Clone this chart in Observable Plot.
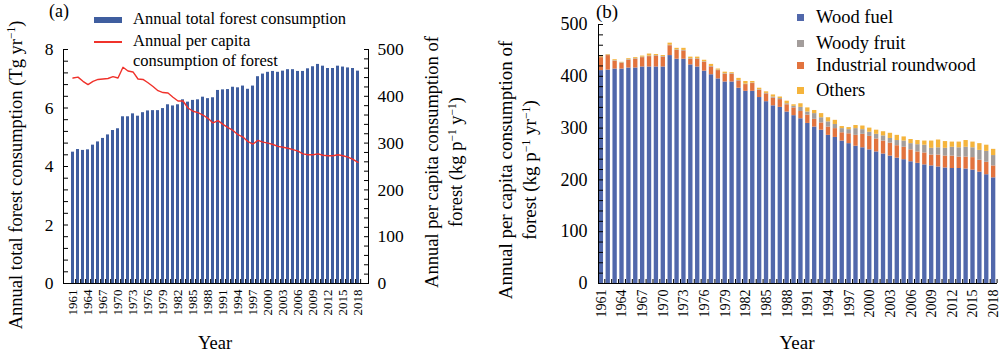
<!DOCTYPE html>
<html><head><meta charset="utf-8">
<script src="https://cdn.jsdelivr.net/npm/d3@7"></script>
<script src="https://cdn.jsdelivr.net/npm/@observablehq/plot@0.6"></script>
<style>
body{margin:0;background:#fff;}
#wrap{position:relative;width:1000px;height:355px;overflow:hidden;font-family:"Liberation Serif","Times New Roman",serif;color:#000;}
#wrap svg, #wrap svg text{font-family:"Liberation Serif","Times New Roman",serif !important;}
.abs{position:absolute;white-space:nowrap;line-height:1;}
.rot{position:absolute;white-space:nowrap;transform:translate(-50%,-50%) rotate(-90deg);text-align:center;}
sup{font-size:0.62em;vertical-align:0.55em;line-height:0;}
.sw{position:absolute;}
</style></head>
<body><div id="wrap">
<div id="pa" style="position:absolute;left:0;top:0"></div>
<div id="pa2" style="position:absolute;left:0;top:0"></div>
<div id="pb" style="position:absolute;left:500px;top:0"></div>

<div class="abs" style="left:49px;top:2px;font-size:18px">(a)</div>
<div class="abs" style="left:596px;top:2px;font-size:19px">(b)</div>

<div class="rot" style="left:16px;top:175px;font-size:18.5px">Annual total forest consumption (Tg yr<sup>−1</sup>)</div>
<div class="rot" style="left:444px;top:162px;font-size:18.5px;line-height:24px">Annual per capita consumption of<br>forest (kg p<sup>−1</sup> y<sup>−1</sup>)</div>
<div class="rot" style="left:518px;top:170px;font-size:19px;line-height:24px">Annual per capita consumption of<br>forest (kg p<sup>−1</sup> yr<sup>−1</sup>)</div>
<div class="rot" style="left:215px;top:343px;font-size:18.5px;transform:translate(-50%,-50%)">Year</div>
<div class="rot" style="left:797px;top:343px;font-size:19px;transform:translate(-50%,-50%)">Year</div>

<div id="legA"></div>
<div id="legB"></div>
</div>
<script>
// ---------- data ----------
const startYear = 1961, endYear = 2018;
const years = d3.range(startYear, endYear + 1);
const labelYears = [1961,1964,1967,1970,1973,1976,1979,1982,1985,1988,1991,1994,1997,2000,2003,2006,2009,2012,2015,2018];

// Panel (a): annual total forest consumption (Tg/yr)
const totalConsumption = [4.49,4.58,4.55,4.57,4.73,4.84,4.96,5.08,5.23,5.29,
  5.70,5.70,5.80,5.72,5.84,5.90,5.91,5.91,5.98,6.11,
  6.07,6.11,6.28,6.20,6.26,6.28,6.37,6.32,6.35,6.60,
  6.62,6.63,6.71,6.69,6.75,6.64,6.75,7.07,7.16,7.22,
  7.25,7.22,7.26,7.31,7.31,7.25,7.25,7.34,7.41,7.49,
  7.43,7.35,7.35,7.43,7.40,7.37,7.35,7.26];
// Panel (a): annual per capita consumption (kg/p/yr)
const perCapita = [439,441,432,425,432,436,437,438,442,439,
  462,454,452,437,436,429,421,412,408,407,
  398,390,390,375,368,365,360,353,343,348,
  340,333,327,318,313,303,298,306,302,300,
  297,293,291,289,286,283,277,275,275,277,
  274,273,273,275,273,270,265,259];

// Panel (b): per capita consumption by category (kg/p/yr)
const woodFuel = [411,412,414,414,416,416,418,418,418,418,
  440,433,433,422,418,410,403,395,389,389,
  377,371,371,359,351,343,340,331,324,318,
  309,302,296,286,282,275,270,265,262,258,
  254,250,246,242,239,235,232,229,227,225,
  223,222,222,221,219,215,210,204];
const industrialRoundwood = [25,28,15,11,15,17,18,20,21,19,
  19,17,16,11,15,17,15,16,15,15,
  14,13,15,14,15,15,15,14,15,14,
  16,15,14,16,17,16,19,21,26,26,
  25,25,25,24,24,23,22,23,21,23,
  23,24,22,23,24,23,24,23];
const woodyFruit = [1,1,1,1,1,1,1,1,1,1,
  1,1,1,1,1,1,1,1,1,1,
  1,1,1,1,1,2,2,2,3,8,
  6,11,10,10,8,8,8,13,9,8,
  9,10,9,10,12,12,14,15,13,14,
  15,17,18,19,19,19,21,20];
const others = [2,1,2,1,2,2,2,4,2,2,
  4,3,4,3,3,3,4,2,3,2,
  4,5,3,3,3,4,3,5,3,7,
  8,6,8,8,8,4,4,6,7,8,
  8,8,10,10,8,8,8,8,14,15,
  13,10,11,13,11,13,12,12];

const categories = ["Wood fuel","Woody fruit","Industrial roundwood","Others"];
const stackOrder = ["Wood fuel","Industrial roundwood","Woody fruit","Others"];
const seriesB = {"Wood fuel": woodFuel, "Woody fruit": woodyFruit, "Industrial roundwood": industrialRoundwood, "Others": others};

// ---------- styles ----------
const colTotal = "#3f5e9f";
const colLine = "#f0322b";
const colorsB = ["#5168ab","#a39d9b","#e2733e","#f5b43c"];
const font = "Liberation Serif, Times New Roman, serif";

const tableA = years.map((year, i) => ({year, total: totalConsumption[i], perCapita: perCapita[i]}));
const tableB = [];
for (const c of stackOrder) years.forEach((year, i) => tableB.push({year, type: c, value: seriesB[c][i]}));

const majorA = [0,2,4,6,8];
const minorA = d3.range(0, 8.001, 0.4);
const majorR = [0,100,200,300,400,500];
const minorR = d3.range(0, 501, 20);
const yearFmt = d => String(d);

// Panel (a) layout
const A = {width: 500, height: 355, marginLeft: 63, marginRight: 132, marginTop: 49, marginBottom: 72};
const pInA = 0.34, pOutA = 0.1;
const stepA = (A.width - A.marginLeft - A.marginRight) / (years.length - pInA + 2 * pOutA);
const xA = {type: "band", domain: years, paddingInner: pInA, paddingOuter: pOutA, axis: null};
const st = {fontFamily: font, background: "transparent", color: "black", overflow: "visible"};

const plotA = Plot.plot({
  ...A, style: {...st, fontSize: "17.5px"},
  x: xA,
  y: {domain: [0, 8], axis: null},
  marks: [
    Plot.barY(tableA, {x: "year", y: "total", fill: colTotal}),
    Plot.axisX({ticks: years, tickSize: -4, tickFormat: () => "", label: null, dx: stepA / 2}),
    Plot.frame({anchor: "left"}),
    Plot.frame({anchor: "bottom"}),
    Plot.axisY({ticks: minorA, tickSize: -5, tickFormat: () => "", label: null}),
    Plot.axisY({ticks: majorA, tickSize: 0, tickPadding: 10, fontSize: 17.5, label: null}),
    Plot.axisX({ticks: labelYears, tickSize: 0, tickRotate: -90, tickPadding: 6, fontSize: 13, tickFormat: yearFmt, label: null})
  ]
});
document.getElementById("pa").append(plotA);

const plotA2 = Plot.plot({
  ...A, style: {...st, fontSize: "17.5px"},
  x: xA,
  y: {domain: [0, 500], axis: null},
  marks: [
    Plot.line(tableA, {x: "year", y: "perCapita", stroke: colLine, strokeWidth: 1.4}),
    Plot.frame({anchor: "right"}),
    Plot.axisY({anchor: "right", ticks: minorR, tickSize: -5, tickFormat: () => "", label: null}),
    Plot.axisY({anchor: "right", ticks: majorR, tickSize: 0, tickPadding: 9, fontSize: 17.5, label: null})
  ]
});
document.getElementById("pa2").append(plotA2);

// Panel (b)
const B = {width: 500, height: 355, marginLeft: 98, marginRight: 4, marginTop: 24, marginBottom: 72};
const pInB = 0.37, pOutB = 0.1;
const stepB = (B.width - B.marginLeft - B.marginRight) / (years.length - pInB + 2 * pOutB);
const plotB = Plot.plot({
  ...B, style: {...st, fontSize: "18px"},
  x: {type: "band", domain: years, paddingInner: pInB, paddingOuter: pOutB, axis: null},
  y: {domain: [0, 500], axis: null},
  color: {domain: categories, range: colorsB},
  marks: [
    Plot.barY(tableB, {x: "year", y: "value", fill: "type", order: stackOrder}),
    Plot.axisX({ticks: years, tickSize: -4, tickFormat: () => "", label: null, dx: stepB / 2}),
    Plot.frame({anchor: "left"}),
    Plot.frame({anchor: "bottom"}),
    Plot.axisY({ticks: minorR, tickSize: -5, tickFormat: () => "", label: null}),
    Plot.axisY({ticks: majorR, tickSize: 0, tickPadding: 11, fontSize: 18, label: null}),
    Plot.axisX({ticks: labelYears, tickSize: 0, tickRotate: -90, tickPadding: 6, fontSize: 14, tickFormat: yearFmt, label: null})
  ]
});
document.getElementById("pb").append(plotB);

// Legends
const legA = document.getElementById("legA");
legA.innerHTML =
  `<div class="sw" style="left:94px;top:17px;width:28px;height:6px;background:${colTotal}"></div>` +
  `<div class="abs" style="left:133px;top:11px;font-size:16.5px">Annual total forest consumption</div>` +
  `<div class="sw" style="left:94px;top:41px;width:28px;height:1.5px;background:${colLine}"></div>` +
  `<div class="abs" style="left:133px;top:31px;font-size:16.5px;line-height:19.5px">Annual per capita<br>consumption of forest</div>`;
const legB = document.getElementById("legB");
const legY = [17, 43, 65, 90];
legB.innerHTML = categories.map((c, i) =>
  `<div class="sw" style="left:797px;top:${legY[i]-3.5}px;width:7px;height:7px;background:${colorsB[i]}"></div>` +
  `<div class="abs" style="left:816px;top:${legY[i]-9}px;font-size:18.5px">${c}</div>`).join("");
</script>
</body></html>
